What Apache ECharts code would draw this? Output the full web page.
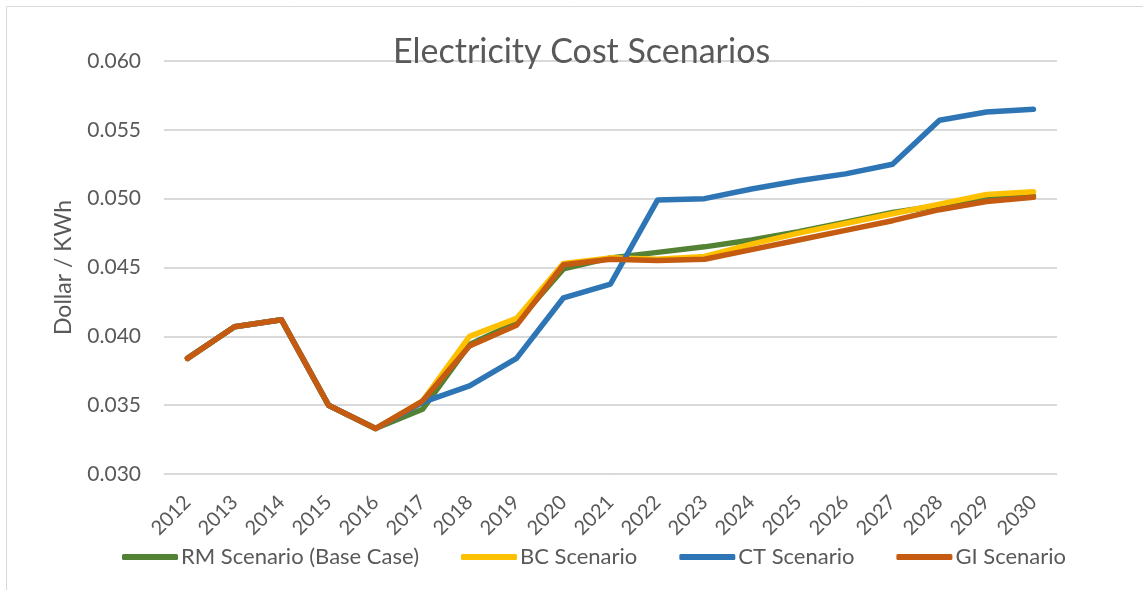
<!DOCTYPE html>
<html>
<head>
<meta charset="utf-8">
<script src="https://cdn.jsdelivr.net/npm/echarts@6/dist/echarts.min.js"></script>
<style>
html,body{margin:0;padding:0;background:#fff;}
#chart{width:1143px;height:590px;}
</style>
</head>
<body>
<div id="chart"></div>
<script>
const years = ['2012','2013','2014','2015','2016','2017','2018','2019','2020','2021','2022','2023','2024','2025','2026','2027','2028','2029','2030'];
const rmScenario = [0.0384,0.0407,0.0412,0.0350,0.0333,0.0347,0.0394,0.0410,0.0449,0.0457,0.0461,0.0465,0.0470,0.0476,0.0483,0.0490,0.0495,0.0501,0.0502];
const bcScenario = [0.0384,0.0407,0.0412,0.0350,0.0333,0.0353,0.0400,0.0413,0.0453,0.0457,0.0456,0.0458,0.0467,0.0475,0.0482,0.0489,0.0496,0.0503,0.0505];
const ctScenario = [0.0384,0.0407,0.0412,0.0350,0.0333,0.0352,0.0364,0.0384,0.0428,0.0438,0.0499,0.0500,0.0507,0.0513,0.0518,0.0525,0.0557,0.0563,0.0565];
const giScenario = [0.0384,0.0407,0.0412,0.0350,0.0333,0.0353,0.0393,0.0408,0.0452,0.0456,0.0455,0.0456,0.0463,0.0470,0.0477,0.0484,0.0492,0.0498,0.0501];
const seriesNames = ['RM Scenario (Base Case)','BC Scenario','CT Scenario','GI Scenario'];
const yTicks = {min:0.030, max:0.060, interval:0.005};

const FONT = 'Lato, "Open Sans", sans-serif';
const TXT = '#595959';
const chart = echarts.init(document.getElementById('chart'));
const colors = ['#548235','#FFC000','#2E75B6','#C55A11'];
const data = [rmScenario, bcScenario, ctScenario, giScenario];

chart.setOption({
  animation:false,
  backgroundColor:'#fff',
  color:colors,
  title:{
    text:'Electricity Cost Scenarios',
    left:388, top:30,
    textStyle:{fontFamily:FONT, fontSize:34, fontWeight:'normal', color:TXT}
  },
  graphic:[{
    type:'rect', silent:true, z:-10,
    shape:{x:6.5, y:6.5, width:1200, height:700},
    style:{fill:'none', stroke:'#d9d9d9', lineWidth:1}
  }],
  legend:{
    bottom:17, left:117,
    itemWidth:56, itemHeight:6, itemGap:42,
    icon:'roundRect',
    textStyle:{fontFamily:FONT, fontSize:22, color:TXT, padding:[0,0,0,-2]},
    data:seriesNames
  },
  grid:{left:164, right:86, top:61, bottom:116},
  xAxis:{
    type:'category', data:years, boundaryGap:true,
    axisLine:{show:true, lineStyle:{color:'#d9d9d9', width:1}},
    axisTick:{show:false},
    axisLabel:{rotate:45, fontFamily:FONT, fontSize:20, color:TXT, margin:25}
  },
  yAxis:{
    type:'value', min:yTicks.min, max:yTicks.max, interval:yTicks.interval,
    name:'Dollar / KWh', nameLocation:'middle', nameGap:89, nameRotate:90,
    nameTextStyle:{fontFamily:FONT, fontSize:23, color:TXT},
    axisLine:{show:false}, axisTick:{show:false},
    axisLabel:{fontFamily:FONT, fontSize:21, color:TXT, margin:23, formatter:v=>v.toFixed(3)},
    splitLine:{lineStyle:{color:'#d9d9d9', width:2}}
  },
  series:seriesNames.map((n,i)=>({
    name:n, type:'line', data:data[i],
    showSymbol:false, symbol:'none',
    lineStyle:{width:5.5, color:colors[i], cap:'round', join:'round'},
    itemStyle:{color:colors[i]},
    z:2+i
  }))
});
</script>
</body>
</html>
